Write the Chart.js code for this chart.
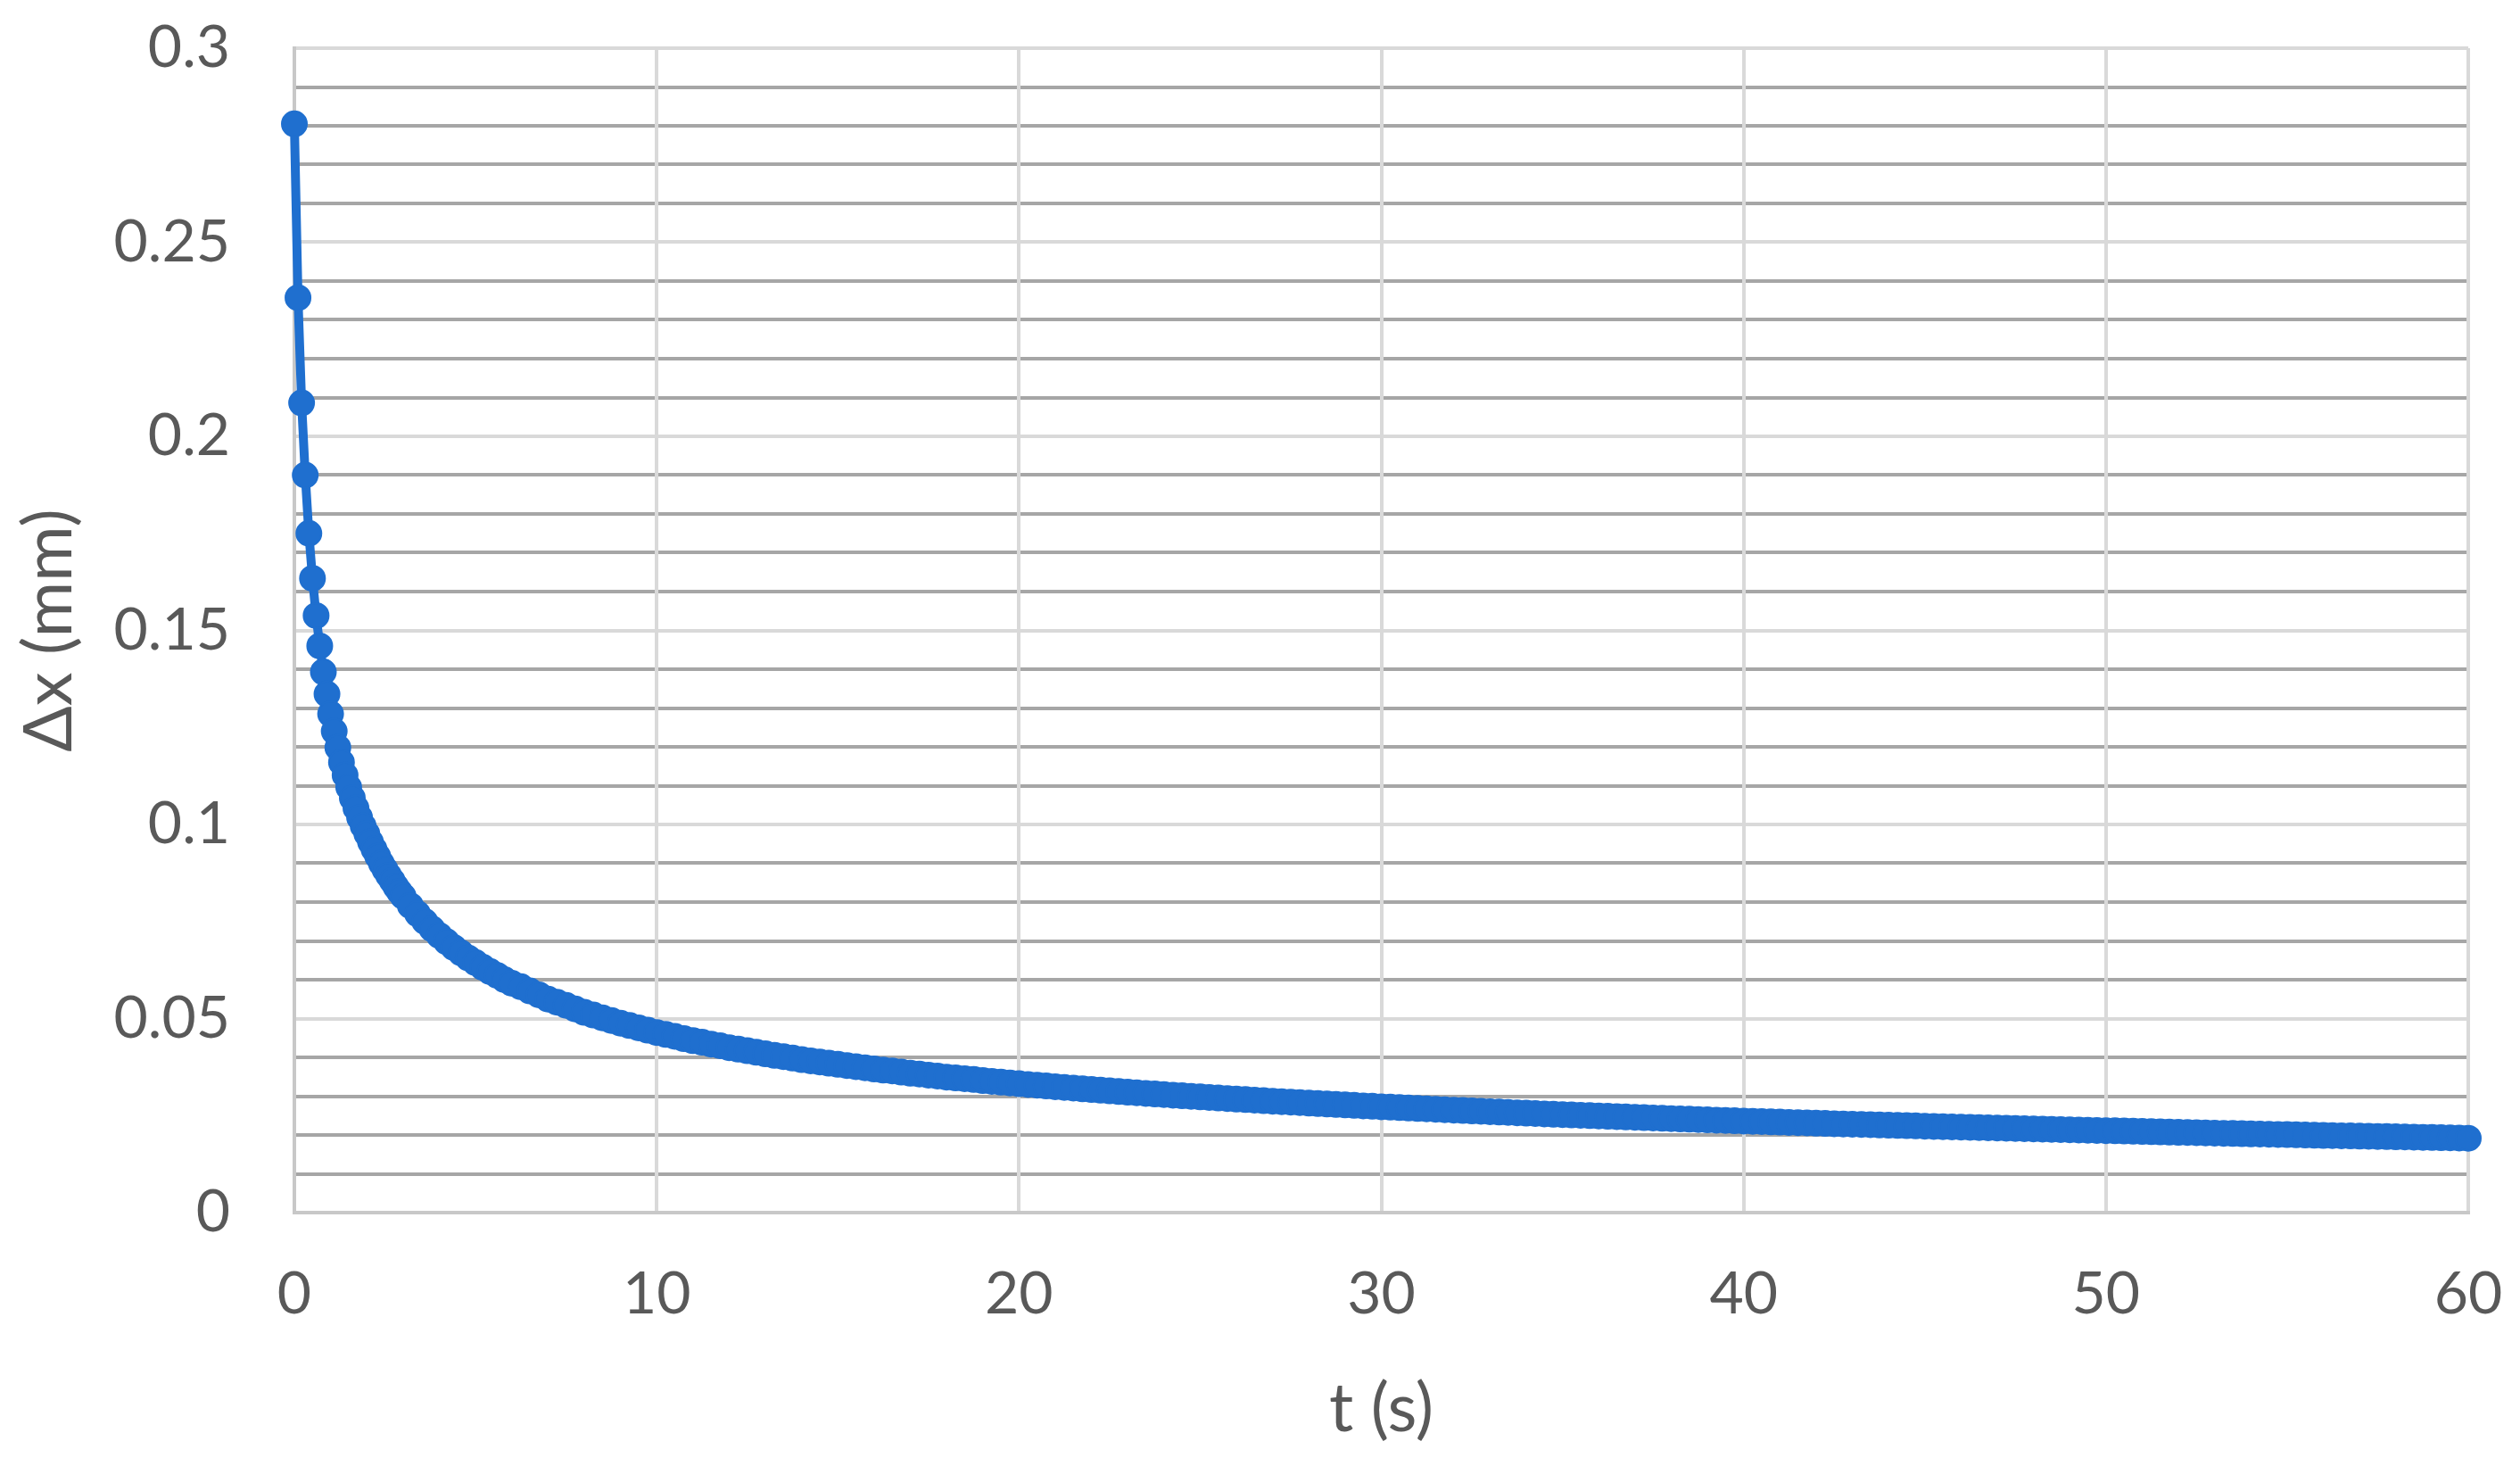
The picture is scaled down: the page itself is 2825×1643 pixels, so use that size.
<!DOCTYPE html>
<html>
<head>
<meta charset="utf-8">
<script src="https://cdn.jsdelivr.net/npm/chart.js@4.4.1/dist/chart.umd.min.js"></script>
<style>
  html, body { margin: 0; padding: 0; background: #ffffff; }
  #wrap { width: 2825px; height: 1643px; }
</style>
</head>
<body>
<div id="wrap"><canvas id="dxChart" width="2825" height="1643"></canvas></div>
<script>
// displacement, mm
// t = 0 .. 3 s, every 0.1 s
const dxStart = [0.2805, 0.2357, 0.2086, 0.1900, 0.1750, 0.1634, 0.1538, 0.1460, 0.1393, 0.1336,
  0.1285, 0.1240, 0.1198, 0.1160, 0.1127, 0.1096, 0.1068, 0.1042, 0.1018, 0.0996,
  0.0976, 0.0955, 0.0936, 0.0918, 0.0900, 0.0884, 0.0869, 0.0855, 0.0840, 0.0827, 0.0815];
// t = 3.2 .. 6 s, every 0.2 s
const dxMid = [0.0791, 0.0770, 0.0750, 0.0731, 0.0714, 0.0698, 0.0683, 0.0669, 0.0656, 0.0644,
  0.0632, 0.0621, 0.0611, 0.0600, 0.0591];
// one row per second s = 6 .. 59: values at s+0.25, s+0.5, s+0.75, s+1
const dxTail = [
  [0.0582, 0.0571, 0.0561, 0.0550], [0.0542, 0.0534, 0.0525, 0.0516],
  [0.0509, 0.0502, 0.0495, 0.0488], [0.0482, 0.0476, 0.0470, 0.0464],
  [0.0459, 0.0454, 0.0448, 0.0443], [0.0439, 0.0434, 0.0430, 0.0425],
  [0.0421, 0.0417, 0.0413, 0.0409], [0.0405, 0.0402, 0.0398, 0.0394],
  [0.0391, 0.0388, 0.0385, 0.0382], [0.0379, 0.0376, 0.0373, 0.0370],
  [0.0367, 0.0365, 0.0362, 0.0359], [0.0357, 0.0354, 0.0352, 0.0349],
  [0.0347, 0.0345, 0.0343, 0.0340], [0.0338, 0.0336, 0.0334, 0.0332],
  [0.03301, 0.03282, 0.03262, 0.03243], [0.03225, 0.03207, 0.03189, 0.03171],
  [0.03154, 0.03137, 0.03120, 0.03103], [0.03087, 0.03071, 0.03056, 0.03040],
  [0.03025, 0.03010, 0.02995, 0.02980], [0.02966, 0.02952, 0.02938, 0.02924],
  [0.02911, 0.02897, 0.02884, 0.02870], [0.02858, 0.02846, 0.02833, 0.02821],
  [0.02809, 0.02797, 0.02785, 0.02773], [0.02762, 0.02750, 0.02739, 0.02727],
  [0.02716, 0.02705, 0.02694, 0.02683], [0.02672, 0.02662, 0.02651, 0.02640],
  [0.02630, 0.02620, 0.02610, 0.02600], [0.02590, 0.02581, 0.02571, 0.02561],
  [0.02552, 0.02542, 0.02533, 0.02523], [0.02515, 0.02506, 0.02498, 0.02489],
  [0.02480, 0.02472, 0.02463, 0.02454], [0.02446, 0.02438, 0.02429, 0.02421],
  [0.02413, 0.02406, 0.02398, 0.02390], [0.02382, 0.02375, 0.02367, 0.02359],
  [0.02352, 0.02345, 0.02338, 0.02331], [0.02324, 0.02318, 0.02311, 0.02304],
  [0.02297, 0.02290, 0.02283, 0.02276], [0.02270, 0.02264, 0.02258, 0.02252],
  [0.02246, 0.02239, 0.02233, 0.02226], [0.02220, 0.02214, 0.02207, 0.02201],
  [0.02195, 0.02190, 0.02184, 0.02178], [0.02173, 0.02167, 0.02162, 0.02156],
  [0.02150, 0.02145, 0.02139, 0.02133], [0.02128, 0.02123, 0.02117, 0.02112],
  [0.02107, 0.02101, 0.02096, 0.02090], [0.02085, 0.02079, 0.02074, 0.02068],
  [0.02063, 0.02058, 0.02052, 0.02047], [0.02042, 0.02038, 0.02033, 0.02028],
  [0.02023, 0.02019, 0.02014, 0.02009], [0.02004, 0.01999, 0.01993, 0.01988],
  [0.01984, 0.01979, 0.01975, 0.01970], [0.01966, 0.01961, 0.01957, 0.01952],
  [0.01948, 0.01943, 0.01939, 0.01934], [0.01930, 0.01925, 0.01921, 0.01916]
];

const xTickLabels = [0, 10, 20, 30, 40, 50, 60];
const yTickLabels = [0, 0.05, 0.1, 0.15, 0.2, 0.25, 0.3];

const lineColor = '#1f6fcf';
const textColor = '#595959';
const fontFamily = 'Lato, "Open Sans", sans-serif';

// sampling clock of the logger
const points = [];
dxStart.forEach((v, i) => points.push({ x: +(i * 0.1).toFixed(2), y: v }));
dxMid.forEach((v, i) => points.push({ x: +(3.2 + i * 0.2).toFixed(2), y: v }));
dxTail.forEach((row, r) => {
  row.forEach((v, j) => points.push({ x: 6 + r + (j + 1) * 0.25, y: v }));
});

const isMajor = (v) => Math.round(v * 100) % 5 === 0;

new Chart(document.getElementById('dxChart'), {
  type: 'scatter',
  data: {
    datasets: [{
      data: points,
      showLine: true,
      borderColor: lineColor,
      borderWidth: 10,
      backgroundColor: lineColor,
      pointRadius: 14,
      pointBorderWidth: 2,
      pointBorderColor: lineColor,
      pointBackgroundColor: lineColor,
      tension: 0,
      clip: false,
    }],
  },
  options: {
    responsive: false,
    devicePixelRatio: 1,
    animation: false,
    layout: { padding: { top: 54, right: 58, left: 0, bottom: 0 } },
    plugins: {
      legend: { display: false },
      tooltip: { enabled: false },
    },
    scales: {
      x: {
        type: 'linear',
        min: 0,
        max: 60,
        afterFit: (scale) => {
          scale.height = 284;
          scale.paddingLeft = 0;
          scale.paddingRight = 0;
        },
        ticks: {
          stepSize: 10,
          padding: 52,
          color: textColor,
          font: { family: fontFamily, size: 66 },
          callback: (v) => (xTickLabels.includes(v) ? String(v) : ''),
          maxRotation: 0,
        },
        grid: { color: '#d9d9d9', lineWidth: 4, drawTicks: false, z: -0.5 },
        border: { color: '#c8c8c8', width: 4 },
        title: {
          display: true,
          text: 't (s)',
          color: textColor,
          font: { family: fontFamily, size: 76 },
          padding: { top: 0, bottom: 18 },
        },
      },
      y: {
        min: 0,
        max: 0.3,
        afterFit: (scale) => {
          scale.width = 330;
          scale.paddingTop = 0;
          scale.paddingBottom = 0;
        },
        ticks: {
          stepSize: 0.01,
          autoSkip: false,
          padding: 72,
          color: textColor,
          font: { family: fontFamily, size: 66 },
          callback: (v) => {
            const r = Math.round(v * 100) / 100;
            return yTickLabels.includes(r) ? String(r) : '';
          },
        },
        grid: {
          color: (ctx) => (isMajor(ctx.tick.value) ? '#d9d9d9' : '#a6a6a6'),
          lineWidth: 4,
          drawTicks: false,
        },
        border: { color: '#c8c8c8', width: 4 },
        title: {
          display: true,
          text: 'Δx (mm)',
          color: textColor,
          font: { family: fontFamily, size: 76 },
          padding: { top: 10, bottom: 0 },
        },
      },
    },
  },
});
</script>
</body>
</html>
